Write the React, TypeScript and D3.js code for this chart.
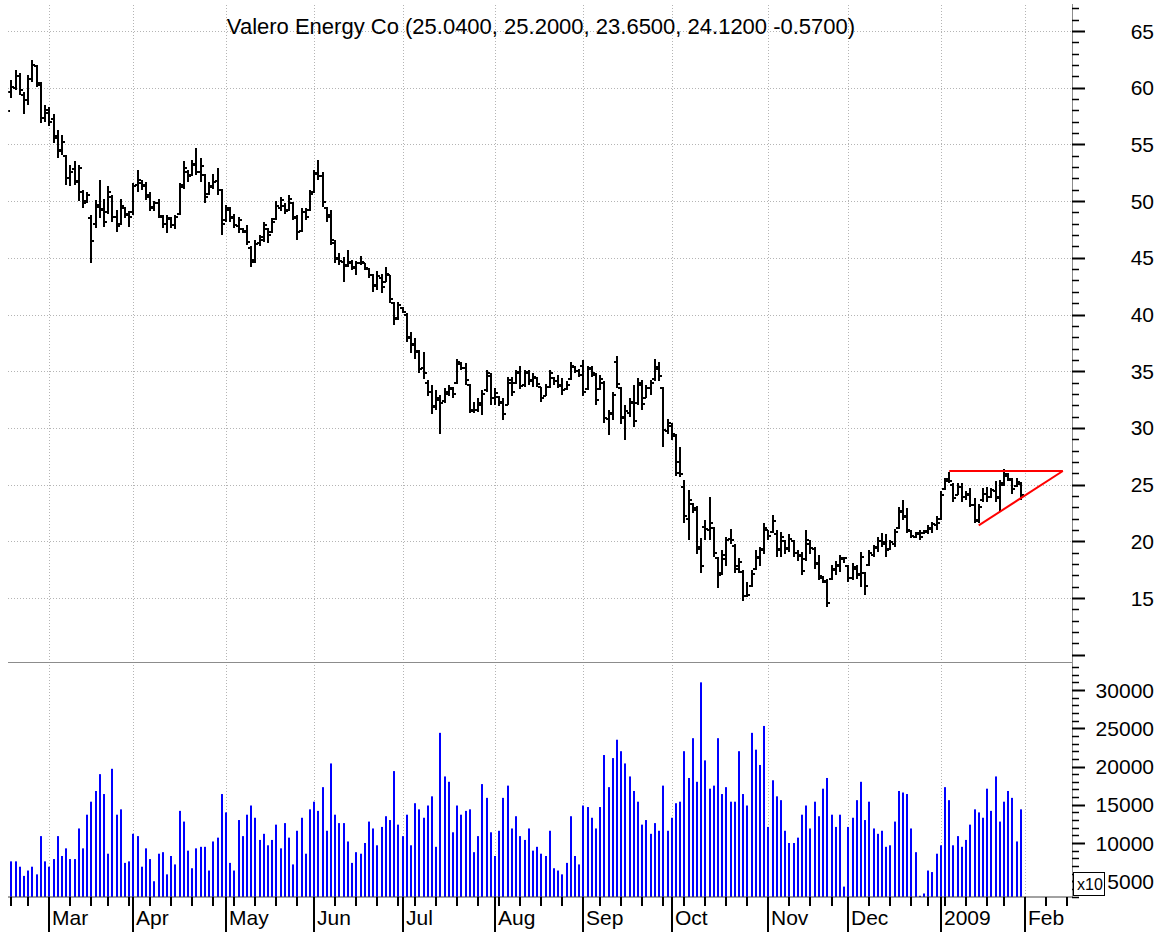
import React from 'react';
import * as d3 from 'd3';

// trading calendar (NYSE holidays in range)
const holidays = ['2008-02-18', '2008-03-21', '2008-05-26', '2008-07-04', '2008-09-01', '2008-11-27', '2008-12-25', '2009-01-01', '2009-01-19', '2009-02-16'];
const fmtDay = d3.timeFormat('%Y-%m-%d');
const tradingDays = d3.timeDays(new Date(2008, 1, 15), new Date(2009, 1, 21))
  .filter(d => d.getDay() % 6 !== 0 && !holidays.includes(fmtDay(d)));

const monthLabels = ['Mar', 'Apr', 'May', 'Jun', 'Jul', 'Aug', 'Sep', 'Oct', 'Nov', 'Dec', '2009', 'Feb'];

// daily OHLC from 2008-02-15 to 2009-01-30
const opens = [
  58.8, 59.6, 60.0, 61.0, 59.4, 58.9, 60.8, 61.9, 60.2, 57.3,
  57.8, 57.2, 55.7, 54.5, 54.0, 52.0, 52.8, 51.8, 50.8, 50.0,
  48.5, 48.0, 49.5, 49.3, 49.0, 50.4, 48.6, 48.0, 49.4, 48.9,
  49.0, 51.4, 51.6, 51.4, 50.5, 49.5, 49.8, 48.6, 48.0, 48.4,
  47.9, 48.9, 51.4, 52.6, 52.3, 53.3, 52.6, 52.3, 50.6, 51.3,
  51.8, 51.0, 48.3, 49.2, 48.6, 47.8, 47.5, 47.4, 45.9, 44.8,
  46.3, 46.6, 47.5, 47.3, 48.4, 49.4, 49.6, 49.2, 49.8, 48.5,
  47.4, 49.0, 49.2, 50.8, 52.5, 52.2, 49.4, 48.8, 46.3, 45.0,
  44.6, 44.4, 44.5, 44.1, 44.5, 44.5, 44.0, 43.5, 42.6, 43.2,
  42.9, 43.5, 41.0, 39.7, 40.6, 40.0, 37.9, 37.3, 36.7, 35.3,
  34.0, 33.2, 31.9, 32.5, 32.4, 33.0, 33.4, 34.0, 35.6, 35.3,
  33.8, 31.5, 31.6, 32.0, 33.3, 34.6, 32.6, 32.7, 32.3, 32.0,
  34.0, 34.0, 34.8, 33.8, 34.8, 34.2, 34.4, 33.6, 32.8, 33.6,
  34.4, 34.1, 33.8, 33.4, 34.3, 35.4, 35.0, 35.5, 33.4, 35.3,
  34.7, 33.4, 34.0, 30.8, 31.2, 35.8, 33.5, 31.0, 31.3, 32.2,
  32.2, 33.8, 32.6, 33.5, 34.3, 35.2, 33.5, 29.7, 30.2, 29.3,
  27.0, 24.8, 22.0, 23.3, 22.9, 19.3, 21.3, 21.0, 21.2, 18.5,
  17.2, 18.4, 20.2, 19.6, 17.8, 17.3, 15.2, 16.1, 17.6, 18.5,
  19.2, 21.0, 20.8, 20.6, 19.2, 20.0, 19.3, 20.0, 19.0, 18.7,
  18.4, 19.8, 19.3, 18.0, 16.8, 16.4, 16.7, 17.5, 17.9, 18.4,
  17.8, 16.8, 17.6, 17.1, 17.2, 17.9, 18.8, 19.4, 20.0, 19.9,
  19.3, 19.8, 21.2, 22.6, 22.1, 20.9, 20.4, 20.6, 20.7, 20.8,
  21.1, 21.4, 22.0, 24.6, 25.5, 25.0, 24.1, 24.8, 23.9, 24.2,
  23.2, 21.8, 23.6, 24.2, 23.9, 24.4, 23.8, 25.1, 25.8, 25.4,
  24.9, 25.04,
];
const highs = [
  59.5, 60.7, 61.6, 61.3, 59.6, 61.1, 62.4, 62.0, 60.5, 58.5,
  58.3, 57.7, 56.3, 55.8, 54.1, 53.2, 53.5, 53.2, 51.0, 50.8,
  48.8, 50.1, 51.9, 50.2, 51.3, 50.5, 49.2, 50.2, 49.5, 49.1,
  51.6, 52.7, 51.9, 51.7, 50.8, 50.0, 50.2, 48.8, 48.8, 48.6,
  48.8, 51.6, 53.5, 52.7, 53.6, 54.7, 53.8, 52.4, 51.7, 52.4,
  52.9, 51.1, 49.7, 49.5, 48.9, 48.6, 47.6, 47.9, 46.0, 46.6,
  47.0, 48.2, 47.6, 48.5, 50.0, 50.4, 49.8, 50.5, 49.9, 48.8,
  49.4, 49.4, 51.0, 52.7, 53.6, 52.6, 49.5, 49.2, 46.6, 45.4,
  45.1, 45.7, 44.8, 44.7, 45.2, 44.5, 44.1, 43.6, 43.8, 43.6,
  44.2, 43.5, 41.1, 41.1, 40.7, 40.1, 38.5, 37.9, 36.9, 36.7,
  34.2, 33.8, 33.3, 32.9, 33.5, 33.8, 33.6, 36.1, 35.8, 35.7,
  33.9, 32.3, 32.6, 33.3, 35.1, 34.8, 33.5, 32.8, 32.6, 34.5,
  34.5, 35.1, 35.5, 35.1, 35.1, 34.8, 34.5, 33.6, 33.9, 35.1,
  34.5, 34.7, 34.4, 34.1, 35.8, 35.5, 35.2, 36.0, 35.5, 35.5,
  34.8, 34.7, 34.1, 31.6, 33.2, 36.3, 33.6, 32.0, 32.6, 33.8,
  34.4, 34.2, 33.8, 34.2, 36.1, 35.8, 33.6, 30.8, 30.4, 29.5,
  28.3, 25.4, 24.5, 23.4, 23.1, 20.3, 21.9, 23.9, 21.3, 18.6,
  19.2, 20.4, 21.1, 19.8, 18.5, 17.5, 16.4, 17.5, 19.2, 19.5,
  21.6, 21.0, 22.3, 21.0, 20.8, 20.1, 20.6, 20.1, 19.2, 19.1,
  21.0, 20.1, 19.5, 18.8, 16.9, 16.7, 17.9, 18.3, 18.8, 18.6,
  17.9, 18.1, 17.9, 19.1, 17.3, 19.2, 19.7, 20.4, 20.7, 20.6,
  20.1, 21.1, 23.0, 23.6, 22.9, 21.0, 20.8, 21.0, 21.0, 21.4,
  21.7, 22.2, 24.4, 25.6, 26.1, 25.1, 25.1, 25.1, 24.4, 24.7,
  23.8, 23.3, 24.7, 24.8, 24.7, 25.3, 25.4, 26.4, 26.0, 25.6,
  25.6, 25.2,
];
const lows = [
  57.6, 59.1, 59.8, 59.4, 57.7, 58.5, 60.5, 60.1, 56.9, 57.0,
  56.6, 55.1, 53.8, 54.1, 51.4, 51.3, 51.4, 50.0, 49.4, 49.8,
  44.5, 47.6, 48.5, 47.7, 48.9, 48.2, 47.3, 47.9, 48.5, 47.7,
  48.8, 50.8, 51.0, 50.1, 49.1, 49.1, 48.5, 47.6, 47.2, 47.6,
  47.5, 48.8, 51.1, 51.7, 52.2, 52.3, 51.7, 49.8, 50.5, 51.1,
  50.5, 47.0, 48.2, 48.2, 47.6, 47.2, 47.2, 46.1, 44.2, 44.5,
  46.0, 46.4, 46.3, 47.2, 48.3, 49.1, 48.9, 49.1, 48.3, 46.6,
  47.3, 48.3, 49.1, 50.7, 51.9, 49.5, 48.2, 46.1, 44.5, 44.4,
  42.9, 44.2, 43.9, 43.5, 44.4, 43.9, 43.2, 42.0, 42.2, 41.9,
  42.9, 41.0, 39.1, 39.5, 40.1, 37.6, 36.6, 36.1, 34.8, 34.3,
  32.8, 31.2, 31.6, 29.5, 32.2, 32.8, 32.6, 33.9, 35.1, 33.8,
  31.3, 31.3, 31.4, 31.1, 33.2, 32.0, 32.0, 31.9, 30.7, 32.0,
  32.8, 33.9, 33.4, 33.6, 33.8, 33.6, 33.6, 32.3, 32.8, 33.5,
  33.8, 33.5, 32.9, 33.3, 34.2, 34.8, 34.5, 32.8, 33.3, 34.5,
  32.0, 33.3, 30.4, 29.4, 30.7, 33.5, 30.3, 28.9, 31.0, 30.1,
  32.0, 31.6, 32.6, 32.9, 34.1, 34.1, 28.3, 29.5, 28.9, 25.8,
  25.7, 21.6, 20.1, 22.5, 18.9, 17.2, 20.1, 20.1, 18.6, 15.9,
  17.0, 17.8, 19.8, 17.2, 17.2, 14.7, 15.1, 16.0, 17.5, 17.8,
  18.9, 20.1, 20.7, 18.6, 18.6, 18.9, 19.1, 18.6, 18.3, 17.0,
  18.3, 18.9, 17.6, 16.6, 16.3, 14.2, 16.6, 17.0, 17.3, 18.1,
  16.4, 16.6, 16.7, 16.0, 15.3, 17.8, 18.6, 19.1, 19.5, 18.6,
  19.2, 19.5, 21.1, 21.9, 20.7, 20.3, 20.3, 20.1, 20.6, 20.6,
  20.7, 21.0, 21.9, 24.5, 25.1, 23.5, 24.1, 23.5, 23.6, 23.0,
  21.6, 21.6, 23.5, 23.5, 23.8, 23.5, 22.6, 24.9, 25.3, 24.2,
  24.8, 23.65,
];
const closes = [
  57.95, 60.1, 61.0, 59.8, 58.9, 60.8, 62.0, 60.4, 57.3, 58.0,
  57.0, 55.6, 54.4, 55.2, 52.0, 52.6, 51.7, 52.9, 49.8, 50.5,
  46.5, 49.7, 49.2, 48.2, 50.8, 48.6, 47.8, 49.6, 48.8, 48.6,
  51.3, 51.9, 51.3, 50.4, 49.4, 49.8, 48.7, 48.0, 48.5, 47.9,
  48.6, 51.2, 52.9, 52.2, 53.2, 52.6, 53.1, 50.4, 51.2, 51.7,
  51.0, 48.0, 49.4, 48.5, 47.9, 48.3, 47.3, 46.4, 44.6, 46.2,
  46.8, 47.9, 47.0, 48.2, 49.6, 50.1, 49.1, 50.2, 48.6, 47.3,
  49.0, 48.6, 50.6, 52.4, 52.2, 49.9, 48.6, 46.6, 44.9, 44.7,
  44.3, 44.6, 44.2, 44.5, 44.6, 44.1, 43.5, 42.5, 43.4, 42.4,
  43.6, 41.4, 39.6, 40.8, 40.2, 38.0, 37.4, 36.8, 35.2, 34.8,
  33.2, 31.8, 32.6, 32.2, 33.2, 33.5, 33.0, 35.8, 35.3, 34.2,
  31.6, 31.6, 32.2, 33.0, 34.8, 32.6, 33.1, 32.2, 31.2, 34.2,
  33.2, 34.9, 33.7, 34.9, 34.1, 34.5, 33.9, 32.6, 33.6, 34.8,
  34.1, 33.7, 33.3, 33.8, 35.5, 35.0, 34.7, 33.2, 35.2, 34.8,
  32.5, 34.3, 30.9, 31.3, 32.9, 33.9, 30.9, 31.5, 32.3, 30.6,
  34.0, 32.1, 33.5, 34.0, 35.4, 34.6, 29.8, 30.4, 29.5, 26.0,
  25.9, 22.2, 23.6, 22.8, 19.5, 17.8, 21.1, 21.6, 19.0, 17.0,
  18.8, 20.1, 20.1, 17.6, 18.2, 15.2, 15.3, 17.1, 18.6, 19.3,
  21.2, 20.5, 21.8, 19.3, 20.4, 19.4, 20.2, 19.0, 18.8, 17.4,
  20.1, 19.4, 18.1, 16.9, 16.5, 14.6, 17.6, 17.8, 18.5, 18.5,
  16.8, 17.7, 17.0, 18.6, 16.1, 19.0, 19.5, 20.0, 19.8, 19.2,
  19.9, 20.8, 22.7, 22.2, 21.0, 20.5, 20.7, 20.4, 20.9, 21.2,
  21.5, 21.6, 24.1, 25.3, 25.3, 23.8, 24.8, 23.9, 24.1, 23.2,
  21.9, 23.0, 24.2, 23.9, 24.5, 23.9, 25.0, 25.9, 25.5, 24.6,
  25.2, 24.12,
];
const volumes = [
  8000, 7600, 7600, 6900, 5700, 6400, 6900, 5900, 10900, 7600,
  6900, 7900, 10900, 8300, 9300, 7900, 7900, 11900, 9300, 13700,
  15400, 16800, 19000, 16400, 8600, 19700, 13700, 14400, 7400, 7600,
  11200, 10900, 6900, 9300, 7900, 5000, 8600, 8800, 5900, 8300,
  7200, 14200, 12800, 9000, 6700, 9300, 9500, 9500, 6400, 10200,
  10700, 16400, 14000, 7400, 6400, 13000, 10900, 13700, 14900, 13300,
  10400, 11200, 9700, 10400, 12400, 9300, 12600, 10700, 7200, 11600,
  13300, 8600, 14400, 15400, 14200, 17300, 11600, 20400, 13700, 12600,
  12600, 10200, 7400, 8800, 8600, 10000, 12800, 11900, 9700, 12100,
  13500, 13000, 19400, 12400, 10900, 13700, 9700, 15200, 14400, 13300,
  14900, 16100, 9500, 24400, 18700, 18000, 11400, 14900, 13700, 14200,
  14400, 8800, 10900, 17700, 15900, 11400, 8300, 11600, 15900, 17500,
  11900, 13500, 10900, 10400, 11900, 9000, 9500, 8600, 8300, 11600,
  6700, 6400, 5900, 7400, 13500, 8300, 7200, 14900, 14700, 13300,
  11900, 14700, 21500, 17300, 21100, 23500, 22000, 20400, 18700, 16800,
  15400, 12400, 13000, 11200, 12600, 11600, 17500, 11600, 13300, 15200,
  15400, 22000, 18500, 23700, 18000, 31000, 20800, 17100, 17500, 23700,
  16400, 17300, 15400, 15400, 22000, 16400, 14900, 24400, 22200, 20200,
  25300, 12100, 18200, 16100, 15600, 11600, 10000, 10000, 10700, 13700,
  14900, 11900, 15400, 13500, 17100, 18500, 13700, 12100, 13700, 4300,
  12100, 13300, 15600, 18000, 13000, 15400, 11900, 11200, 11600, 9500,
  9700, 12800, 16800, 16600, 16400, 11900, 8800, 3100, 3400, 6400,
  6200, 8600, 9700, 17300, 15600, 9700, 10900, 9500, 10400, 12400,
  14400, 14000, 13300, 17100, 14200, 18700, 12800, 15400, 16800, 15900,
  10200, 14400,
];

// drawn triangle (date, price)
const triangleTop: [string, number][] = [['2009-01-06', 26.2], ['2009-02-13', 26.2]];
const triangleLow: [string, number][] = [['2009-01-15', 21.4], ['2009-02-13', 26.2]];

const priceLabels = [15, 20, 25, 30, 35, 40, 45, 50, 55, 60, 65];
const volumeLabels = [5000, 10000, 15000, 20000, 25000, 30000];

const FONT = '"Liberation Sans", Arial, Helvetica, sans-serif';

export default function App() {
  const left = 8, right = 1072;
  const priceTop = 5, sep = 662.5, base = 897;

  const x = d3.scaleLinear().domain([0.18, 253.18]).range([left, right]);
  const yP = d3.scaleLinear().domain([65, 15]).range([31, 598]);
  const yV = d3.scaleLinear().domain([30000, 10000]).range([690, 843]);

  const bars = opens.map((o, i) => ({ i, o, h: highs[i], l: lows[i], c: closes[i], v: volumes[i] }));

  const monthIdx = tradingDays.map((_, i) => i)
    .filter(i => i > 0 && tradingDays[i].getMonth() !== tradingDays[i - 1].getMonth());
  const weekIdx = tradingDays.map((_, i) => i)
    .filter(i => i > 0 && +d3.timeMonday.floor(tradingDays[i]) !== +d3.timeMonday.floor(tradingDays[i - 1]))
    .filter(i => !monthIdx.includes(i) && x(i) > left);

  const dayIdx = (s: string) => tradingDays.findIndex(d => fmtDay(d) === s);
  const tri = d3.line<[string, number]>().x(p => x(dayIdx(p[0]))).y(p => yP(p[1]));

  const priceTicks = d3.range(10, 68);
  const volTicks = d3.range(3000, 34000, 1000);
  const py = (v: number) => Math.round(yP(v));

  return (
    <svg width={1168} height={932} style={{ position: 'absolute', left: 0, top: 0, background: '#fff' }}
      fontFamily={FONT}>
      <defs>
        <clipPath id="cp-price"><rect x={8.2} y={priceTop} width={right - 8.2} height={sep - priceTop} /></clipPath>
        <clipPath id="cp-vol"><rect x={8.2} y={sep} width={right - 8.2} height={base - sep} /></clipPath>
      </defs>
      <rect x={0} y={0} width={1168} height={932} fill="#fff" />

      {/* grid */}
      <g stroke="#b4b4b4" strokeWidth={1} strokeDasharray="1,2">
        {priceLabels.map(v => (
          <line key={'h' + v} x1={left} x2={right} y1={py(v) + 0.5} y2={py(v) + 0.5} />
        ))}
        {monthIdx.map(i => (
          <line key={'v' + i} x1={Math.round(x(i)) + 0.5} x2={Math.round(x(i)) + 0.5} y1={priceTop} y2={base} />
        ))}
      </g>

      <text x={541} y={34} textAnchor="middle" fontSize={22} fill="#000">
        Valero Energy Co (25.0400, 25.2000, 23.6500, 24.1200 -0.5700)
      </text>

      {/* OHLC bars */}
      <g clipPath="url(#cp-price)" stroke="#000" strokeWidth={2}>
        {bars.map(b => {
          const cx = Math.round(x(b.i));
          return (
            <g key={b.i}>
              <line x1={cx} x2={cx} y1={py(b.h)} y2={py(b.l)} />
              <line x1={cx - 3} x2={cx} y1={py(b.o)} y2={py(b.o)} />
              <line x1={cx} x2={cx + 3} y1={py(b.c)} y2={py(b.c)} />
            </g>
          );
        })}
      </g>

      {/* triangle */}
      <g stroke="#ff0000" strokeWidth={2} fill="none">
        <path d={tri(triangleTop) || ''} />
        <path d={tri(triangleLow) || ''} />
      </g>

      {/* volume */}
      <g clipPath="url(#cp-vol)" fill="#0000ff">
        {bars.map(b => (
          <rect key={b.i} x={Math.round(x(b.i)) - 1} width={2} y={yV(b.v)} height={base - yV(b.v)} />
        ))}
      </g>

      {/* panel separator and axes */}
      <line x1={left} x2={right} y1={sep} y2={sep} stroke="#8c8c8c" strokeWidth={1} />
      <line x1={left} x2={right + 0.5} y1={base} y2={base} stroke="#444" strokeWidth={1} />
      <line x1={right + 0.5} x2={right + 0.5} y1={4} y2={base} stroke="#8c8c8c" strokeWidth={1} />

      {/* right price and volume axis */}
      <g stroke="#000">
        {priceTicks.map(v => (
          <line key={'pt' + v} x1={right} x2={v % 5 === 0 ? right + 13 : right + 7}
            y1={py(v) + 0.5} y2={py(v) + 0.5} strokeWidth={v % 5 === 0 ? 2 : 1.5} />
        ))}
        {volTicks.map(v => (
          <line key={'vt' + v} x1={right} x2={v % 5000 === 0 ? right + 13 : right + 7}
            y1={Math.round(yV(v)) + 0.5} y2={Math.round(yV(v)) + 0.5} strokeWidth={v % 5000 === 0 ? 2 : 1.5} />
        ))}
      </g>
      <g fontSize={21} fill="#000" textAnchor="end">
        {priceLabels.map(v => (
          <text key={'pl' + v} x={1154} y={yP(v)} dy="0.36em">{v}</text>
        ))}
        {volumeLabels.map(v => (
          <text key={'vl' + v} x={1154} y={yV(v)} dy="0.36em">{v}</text>
        ))}
      </g>
      <rect x={1073.5} y={872.5} width={31} height={23} fill="#fff" stroke="#000" strokeWidth={1} />
      <text x={1077} y={890} fontSize={16} fill="#000">x10</text>

      {/* bottom time axis */}
      <g stroke="#000" strokeWidth={2}>
        {monthIdx.map(i => (
          <line key={'mt' + i} x1={Math.round(x(i))} x2={Math.round(x(i))} y1={base} y2={932} />
        ))}
        {weekIdx.map(i => (
          <line key={'wt' + i} x1={Math.round(x(i))} x2={Math.round(x(i))} y1={base} y2={906} />
        ))}
      </g>
      <g fontSize={21} fill="#000">
        {monthIdx.map((i, k) => (
          <text key={'ml' + i} x={Math.round(x(i)) + 3} y={925}>{monthLabels[k]}</text>
        ))}
      </g>
    </svg>
  );
}
